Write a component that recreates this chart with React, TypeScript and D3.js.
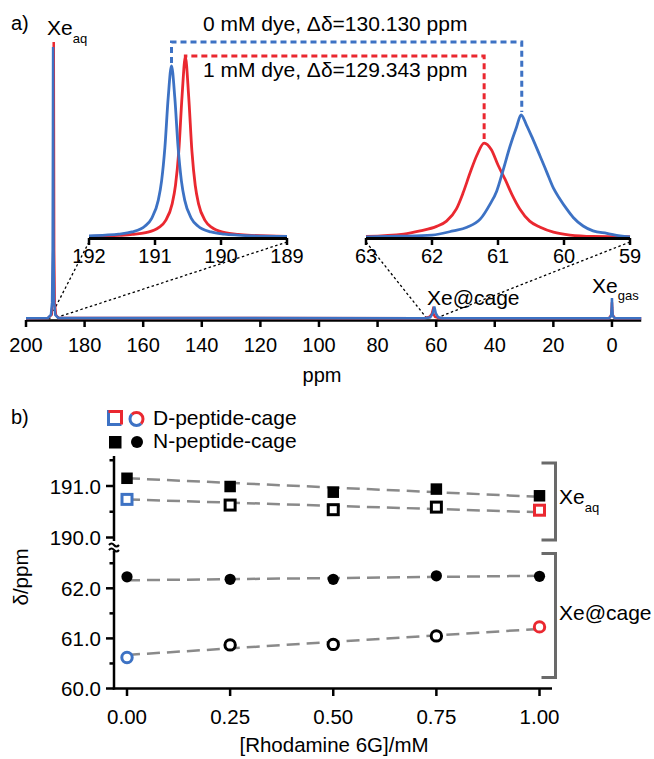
import React from "react";
import * as d3 from "d3";

// ---------- Panel a data (ppm, normalised intensity) ----------
const mainTicks = [200, 180, 160, 140, 120, 100, 80, 60, 40, 20, 0];
const inset1Ticks = [192, 191, 190, 189];
const inset2Ticks = [63, 62, 61, 60, 59];

const mainRed: [number, number][] = [
  [200, 0.003], [192.5, 0.004], [191.3, 0.015], [190.9, 0.06], [190.7, 0.25], [190.6, 0.7],
  [190.54, 1.0], [190.48, 0.7], [190.4, 0.25], [190.2, 0.06], [189.8, 0.015], [189, 0.004],
  [64, 0.003], [62.2, 0.008], [61.5, 0.018], [61.2, 0.03], [60.9, 0.018], [60.4, 0.008], [59, 0.003],
  [1, 0.003], [0.2, 0.015], [0, 0.06], [-0.2, 0.015], [-1, 0.003], [-10, 0.003],
];
const mainBlue: [number, number][] = [
  [200, 0.003], [192.5, 0.004], [191.5, 0.015], [191.1, 0.06], [190.9, 0.25], [190.8, 0.7],
  [190.75, 0.982], [190.7, 0.7], [190.6, 0.25], [190.4, 0.06], [190, 0.015], [189, 0.004],
  [64, 0.003], [62, 0.006], [61.2, 0.02], [60.64, 0.045], [60.1, 0.02], [59.3, 0.006], [58, 0.003],
  [1, 0.003], [0.3, 0.01], [0.1, 0.04], [0, 0.076], [-0.1, 0.04], [-0.3, 0.01], [-1, 0.003], [-10, 0.003],
];

const inset1Red: [number, number][] = [
  [192, 0.004], [191.54, 0.009], [191.34, 0.014], [191.14, 0.024], [190.94, 0.053], [190.84, 0.091],
  [190.74, 0.184], [190.69, 0.286], [190.64, 0.474], [190.59, 0.783], [190.54, 1.0], [190.49, 0.783],
  [190.44, 0.474], [190.39, 0.286], [190.34, 0.184], [190.24, 0.091], [190.14, 0.053], [189.94, 0.024],
  [189.74, 0.014], [189.54, 0.009], [189, 0.004],
];
const inset1Blue: [number, number][] = [
  [192, 0.006], [191.75, 0.0104], [191.55, 0.016], [191.35, 0.028], [191.15, 0.061], [191.05, 0.104],
  [190.95, 0.205], [190.9, 0.312], [190.85, 0.498], [190.8, 0.774], [190.75, 0.95], [190.7, 0.774],
  [190.65, 0.498], [190.6, 0.312], [190.55, 0.205], [190.45, 0.104], [190.35, 0.061], [190.15, 0.028],
  [189.95, 0.016], [189.75, 0.0104], [189.5, 0.006], [189, 0.003],
];

const inset2Red: [number, number][] = [
  [63, 0.005], [62.43, 0.024], [62.18, 0.05], [61.93, 0.087], [61.78, 0.13], [61.63, 0.23], [61.53, 0.36],
  [61.42, 0.53], [61.32, 0.67], [61.21, 0.77], [61.1, 0.715], [61.0, 0.59], [60.89, 0.47], [60.79, 0.35],
  [60.67, 0.23], [60.52, 0.13], [60.36, 0.08], [60.16, 0.04], [59.91, 0.016], [59.56, 0.005], [59, 0.002],
];
const inset2Blue: [number, number][] = [
  [63, 0.0], [62.5, 0.006], [62, 0.016], [61.68, 0.05], [61.47, 0.08], [61.27, 0.146], [61.12, 0.27],
  [61.02, 0.376], [60.92, 0.553], [60.82, 0.74], [60.72, 0.9], [60.65, 1.0], [60.57, 0.92], [60.47, 0.8],
  [60.36, 0.66], [60.26, 0.53], [60.16, 0.4], [60.06, 0.31], [59.96, 0.23], [59.86, 0.16], [59.71, 0.09],
  [59.56, 0.05], [59.35, 0.03], [59.15, 0.01], [59, 0.0],
];

const peakAqBlue = 190.75;
const peakAqRed = 190.54;
const peakCageBlue = 60.64;
const peakCageRed = 61.21;

// ---------- Panel b data ----------
const conc = [0, 0.25, 0.5, 0.75, 1.0];
const nAq = [191.15, 190.99, 190.88, 190.94, 190.81];
const dAq = [190.74, 190.63, 190.54, 190.59, 190.53];
const nCage = [62.23, 62.18, 62.18, 62.25, 62.24];
const dCage = [60.62, 60.87, 60.88, 61.05, 61.23];
const fitNAq = [191.15, 190.79];
const fitDAq = [190.74, 190.49];
const fitNCage = [62.16, 62.25];
const fitDCage = [60.67, 61.19];
const xTicksB = [0, 0.25, 0.5, 0.75, 1.0];
const yMajorAq = [190, 191];
const yMinorAq = [190.5, 191.5];
const yMajorCage = [60, 61, 62];
const yMinorCage = [60.5, 61.5, 62.5];

const BLUE = "#3d72c4";
const RED = "#ea2830";
const GRAY = "#8a8a8a";
const BRK = "#6a6a6a";
const FONT = "Liberation Sans, Arial, Helvetica, sans-serif";

export default function App() {
  const xMain = d3.scaleLinear().domain([200, -10]).range([26, 641.25]);
  const yMain = d3.scaleLinear().domain([0, 1]).range([319, 42]);
  const xIn1 = d3.scaleLinear().domain([192, 189]).range([89, 287]);
  const yIn1 = d3.scaleLinear().domain([0, 1]).range([237, 57]);
  const xIn2 = d3.scaleLinear().domain([63, 59]).range([366, 630]);
  const yIn2 = d3.scaleLinear().domain([0, 1]).range([237, 115]);

  const lineMain = d3.line<[number, number]>().x((d) => xMain(d[0])).y((d) => yMain(d[1]));
  const lineIn1 = d3
    .line<[number, number]>()
    .x((d) => xIn1(d[0]))
    .y((d) => yIn1(d[1]))
    .curve(d3.curveMonotoneX);
  const lineIn2 = d3
    .line<[number, number]>()
    .x((d) => xIn2(d[0]))
    .y((d) => yIn2(d[1]))
    .curve(d3.curveMonotoneX);

  // panel b scales
  const xB = d3.scaleLinear().domain([0, 1]).range([127, 539.5]);
  const yAq = d3.scaleLinear().domain([190, 191]).range([537.5, 486]);
  const yCage = d3.scaleLinear().domain([60, 62]).range([688.5, 588.3]);
  const axX = 114;

  const bx1 = xIn1(peakAqBlue);
  const bx2 = xIn2(peakCageBlue);
  const rx1 = xIn1(peakAqRed);
  const rx2 = xIn2(peakCageRed);

  const dashLine = (ys: number[], scale: (v: number) => number, key: string) => (
    <line
      key={key}
      x1={xB(0)}
      x2={xB(1)}
      y1={scale(ys[0])}
      y2={scale(ys[1])}
      stroke={GRAY}
      strokeWidth={2.5}
      strokeDasharray="13,7"
    />
  );

  const colorFor = (i: number, open: boolean) =>
    !open ? "#000" : i === 0 ? BLUE : i === conc.length - 1 ? RED : "#000";

  return (
    <svg
      width={654}
      height={759}
      style={{ position: "absolute", left: 0, top: 0, background: "#fff" }}
      fontFamily={FONT}
    >
      <rect x={0} y={0} width={654} height={759} fill="#fff" />
      {/* ================= Panel a ================= */}
      <text x={11} y={30} fontSize={20}>a)</text>

      {/* dashed connectors */}
      <path
        d={`M${bx1},63 L${bx1},42 L${bx2},42 L${bx2},112`}
        fill="none"
        stroke={BLUE}
        strokeWidth={3}
        strokeDasharray="6,4"
      />
      <path
        d={`M${rx1},60 L${rx1},56 L${rx2},56 L${rx2},139`}
        fill="none"
        stroke={RED}
        strokeWidth={3}
        strokeDasharray="6,4"
      />
      <text x={203} y={31} fontSize={21}>0 mM dye, Δδ=130.130 ppm</text>
      <text x={203} y={77} fontSize={21}>1 mM dye, Δδ=129.343 ppm</text>

      {/* dotted zoom guides */}
      <g stroke="#000" strokeWidth={1.3} strokeDasharray="2.5,2.5" fill="none">
        <line x1={xIn1(192)} y1={242} x2={xMain(192)} y2={319} />
        <line x1={xIn1(189)} y1={242} x2={xMain(189)} y2={317} />
        <line x1={xIn2(63)} y1={242} x2={xMain(63)} y2={319} />
        <line x1={xIn2(59)} y1={242} x2={xMain(59)} y2={317} />
      </g>

      {/* inset 1 */}
      <path d={lineIn1(inset1Red) || ""} fill="none" stroke={RED} strokeWidth={2.8} />
      <path d={lineIn1(inset1Blue) || ""} fill="none" stroke={BLUE} strokeWidth={2.8} />
      <line x1={xIn1(192)} x2={xIn1(189)} y1={238.5} y2={238.5} stroke="#000" strokeWidth={3} />
      {inset1Ticks.map((t) => (
        <g key={"i1" + t}>
          <line x1={xIn1(t)} x2={xIn1(t)} y1={238} y2={245} stroke="#000" strokeWidth={2.5} />
          <text x={xIn1(t)} y={263} fontSize={20} textAnchor="middle">{t}</text>
        </g>
      ))}

      {/* inset 2 */}
      <path d={lineIn2(inset2Red) || ""} fill="none" stroke={RED} strokeWidth={2.8} />
      <path d={lineIn2(inset2Blue) || ""} fill="none" stroke={BLUE} strokeWidth={2.8} />
      <line x1={xIn2(63)} x2={xIn2(59)} y1={238.5} y2={238.5} stroke="#000" strokeWidth={3} />
      {inset2Ticks.map((t) => (
        <g key={"i2" + t}>
          <line x1={xIn2(t)} x2={xIn2(t)} y1={238} y2={245} stroke="#000" strokeWidth={2.5} />
          <text x={xIn2(t)} y={263} fontSize={20} textAnchor="middle">{t}</text>
        </g>
      ))}

      {/* main spectrum */}
      <line x1={xMain(200)} x2={xMain(-10)} y1={320.5} y2={320.5} stroke="#000" strokeWidth={2.5} />
      {mainTicks.map((t) => (
        <g key={"m" + t}>
          <line x1={xMain(t)} x2={xMain(t)} y1={320} y2={327} stroke="#000" strokeWidth={2.5} />
          <text x={xMain(t)} y={352} fontSize={20} textAnchor="middle">{t}</text>
        </g>
      ))}
      <path d={lineMain(mainRed) || ""} fill="none" stroke={RED} strokeWidth={2.5} />
      <path d={lineMain(mainBlue) || ""} fill="none" stroke={BLUE} strokeWidth={2.5} />
      <text x={322} y={382} fontSize={20} textAnchor="middle">ppm</text>

      <text x={47} y={35} fontSize={21}>
        Xe<tspan fontSize={13} dy={8}>aq</tspan>
      </text>
      <text x={427} y={305} fontSize={21}>Xe@cage</text>
      <text x={592} y={293} fontSize={21}>
        Xe<tspan fontSize={13} dy={7}>gas</tspan>
      </text>

      {/* ================= Panel b ================= */}
      <text x={11} y={424} fontSize={20}>b)</text>

      {/* legend */}
      <g fill="none" strokeWidth={3}>
        <path d="M115,411.5 L108.5,411.5 L108.5,424.5 L121.5,424.5" stroke={BLUE} />
        <path d="M108.5,411.5 L121.5,411.5 L121.5,424.5" stroke={RED} />
        <path d={d3.arc()({ innerRadius: 5, outerRadius: 8, startAngle: Math.PI * 0.75, endAngle: Math.PI * 1.75 }) || ""}
          transform="translate(136.5,419)" fill={BLUE} stroke="none" />
        <path d={d3.arc()({ innerRadius: 5, outerRadius: 8, startAngle: -Math.PI * 0.25, endAngle: Math.PI * 0.75 }) || ""}
          transform="translate(136.5,419)" fill={RED} stroke="none" />
      </g>
      <rect x={109} y={436} width={12.5} height={12.5} fill="#000" />
      <circle cx={137} cy={442} r={6} fill="#000" />
      <text x={153} y={425} fontSize={21}>D-peptide-cage</text>
      <text x={153} y={448} fontSize={21}>N-peptide-cage</text>

      {/* y axis (upper and lower segments) */}
      <line x1={axX} x2={axX} y1={456} y2={541} stroke="#000" strokeWidth={2.5} />
      <line x1={axX} x2={axX} y1={551} y2={689.5} stroke="#000" strokeWidth={2.5} />
      <g fill="none" stroke="#000" strokeWidth={2}>
        <path d={`M${axX - 5},545 q2.5,-3 5,0 t5,0`} />
        <path d={`M${axX - 5},550 q2.5,-3 5,0 t5,0`} />
      </g>
      {yMajorAq.map((t) => (
        <g key={"ya" + t}>
          <line x1={axX - 8} x2={axX} y1={yAq(t)} y2={yAq(t)} stroke="#000" strokeWidth={2.5} />
          <text x={101} y={yAq(t) + 7.5} fontSize={20.5} textAnchor="end">{t.toFixed(1)}</text>
        </g>
      ))}
      {yMinorAq.map((t) => (
        <line key={"yam" + t} x1={axX - 4.5} x2={axX} y1={yAq(t)} y2={yAq(t)} stroke="#000" strokeWidth={2.5} />
      ))}
      {yMajorCage.map((t) => (
        <g key={"yc" + t}>
          <line x1={axX - 8} x2={axX} y1={yCage(t)} y2={yCage(t)} stroke="#000" strokeWidth={2.5} />
          <text x={101} y={yCage(t) + 7.5} fontSize={20.5} textAnchor="end">{t.toFixed(1)}</text>
        </g>
      ))}
      {yMinorCage.map((t) => (
        <line key={"ycm" + t} x1={axX - 4.5} x2={axX} y1={yCage(t)} y2={yCage(t)} stroke="#000" strokeWidth={2.5} />
      ))}
      <text transform="translate(28,577) rotate(-90)" fontSize={20.5} textAnchor="middle">δ/ppm</text>

      {/* x axis */}
      <line x1={axX - 1.25} x2={552} y1={688.5} y2={688.5} stroke="#000" strokeWidth={2.5} />
      {xTicksB.map((t) => (
        <g key={"xb" + t}>
          <line x1={xB(t)} x2={xB(t)} y1={688} y2={696} stroke="#000" strokeWidth={2.5} />
          <text x={xB(t)} y={724} fontSize={20.5} textAnchor="middle">{t.toFixed(2)}</text>
        </g>
      ))}
      <text x={334} y={752} fontSize={20.5} textAnchor="middle">[Rhodamine 6G]/mM</text>

      {/* fit lines */}
      {dashLine(fitNAq, yAq, "f1")}
      {dashLine(fitDAq, yAq, "f2")}
      {dashLine(fitNCage, yCage, "f3")}
      {dashLine(fitDCage, yCage, "f4")}

      {/* markers */}
      {conc.map((c, i) => (
        <rect key={"nq" + i} x={xB(c) - 5.75} y={yAq(nAq[i]) - 5.75} width={11.5} height={11.5} fill="#000" />
      ))}
      {conc.map((c, i) => (
        <rect key={"dq" + i} x={xB(c) - 5} y={yAq(dAq[i]) - 5} width={10} height={10} fill="#fff"
          stroke={colorFor(i, true)} strokeWidth={3} />
      ))}
      {conc.map((c, i) => (
        <circle key={"nc" + i} cx={xB(c)} cy={yCage(nCage[i])} r={5.6} fill="#000" />
      ))}
      {conc.map((c, i) => (
        <circle key={"dc" + i} cx={xB(c)} cy={yCage(dCage[i])} r={5.2} fill="#fff"
          stroke={colorFor(i, true)} strokeWidth={3} />
      ))}

      {/* brackets */}
      <g fill="none" stroke={BRK} strokeWidth={3}>
        <path d="M541.5,463 L555.5,463 L555.5,540 L541.5,540" />
        <path d="M541.5,553.5 L555.5,553.5 L555.5,677.5 L541.5,677.5" />
      </g>
      <text x={559} y={504} fontSize={21}>
        Xe<tspan fontSize={13} dy={8}>aq</tspan>
      </text>
      <text x={559} y={620} fontSize={21}>Xe@cage</text>
    </svg>
  );
}
